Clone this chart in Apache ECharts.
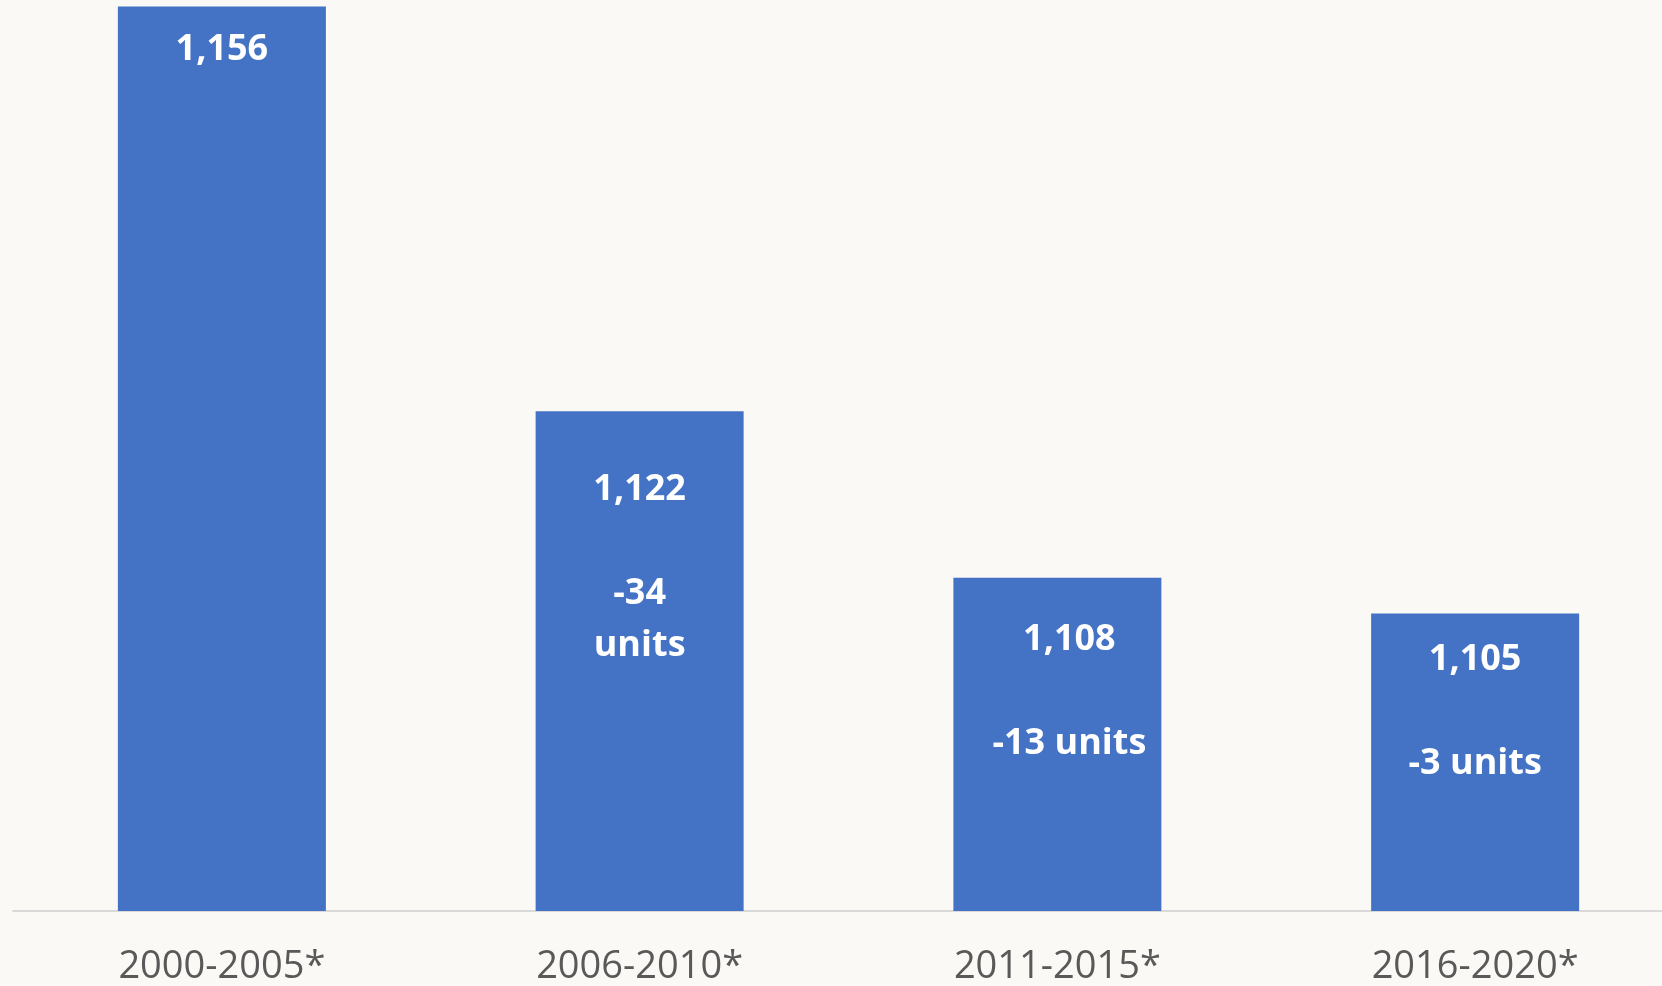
<!DOCTYPE html>
<html>
<head>
<meta charset="utf-8">
<script src="https://cdn.jsdelivr.net/npm/echarts@6/dist/echarts.min.js"></script>
<style>
  html, body { margin: 0; padding: 0; background: #faf9f5; overflow: hidden; }
  /* 图表比窗口大一些，上方和右侧被裁掉 */
  #main { position: absolute; left: 0; top: -41px; width: 1684px; height: 1027px; }
</style>
</head>
<body>
<div id="main"></div>
<script>
// 数据
const periods = ["2000-2005*", "2006-2010*", "2011-2015*", "2016-2020*"];
const units = [1156, 1122, 1108, 1105];
const changes = ["", "-34\nunits", "-13 units", "-3 units"];

// 标签位置微调（距柱顶的距离、水平偏移）
const labelDistance = [17, 53, 36, 20];
const labelOffsetX = [0, 0, 12, 0];

const fmt = (v) => v.toLocaleString("en-US");

const chart = echarts.init(document.getElementById("main"));

const option = {
  backgroundColor: "#faf9f5",
  animation: false,
  grid: { left: 13, right: 0, top: 0, bottom: 74 },
  xAxis: {
    type: "category",
    data: periods,
    axisLine: { lineStyle: { color: "#d9d9d9", width: 2 } },
    axisTick: { show: false },
    axisLabel: {
      color: "#595959",
      fontFamily: "Open Sans",
      fontSize: 38,
      margin: 37,
    },
  },
  yAxis: {
    type: "value",
    min: 1080,
    max: 1160,
    show: false,
  },
  series: [
    {
      type: "bar",
      barWidth: 208,
      itemStyle: { color: "#4472c4" },
      data: units.map((v, i) => ({
        value: v,
        label: {
          show: true,
          position: "insideTop",
          distance: labelDistance[i],
          offset: [labelOffsetX[i], 0],
          formatter: changes[i] ? fmt(v) + "\n\n" + changes[i] : fmt(v),
        },
      })),
      label: {
        color: "#ffffff",
        fontFamily: "Open Sans",
        fontWeight: "bold",
        fontSize: 36,
        lineHeight: 52,
        align: "center",
      },
    },
  ],
};

chart.setOption(option);
</script>
</body>
</html>
